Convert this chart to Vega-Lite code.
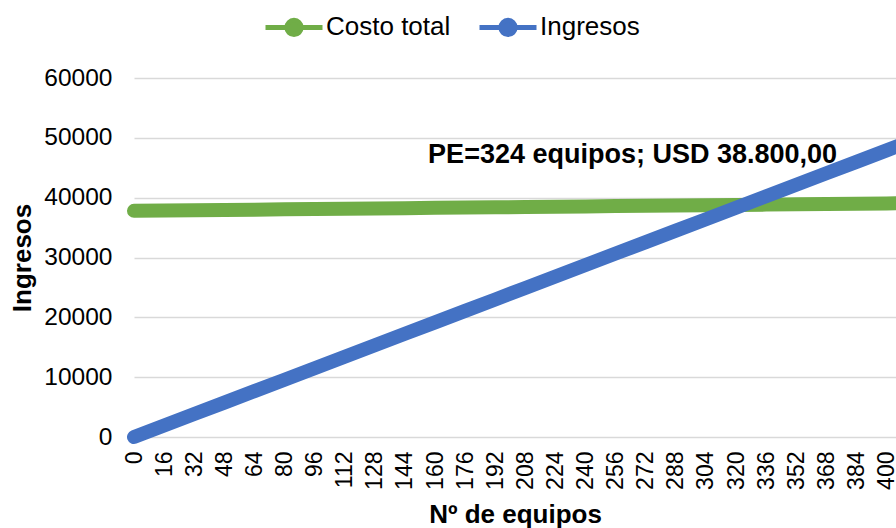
{
  "$schema": "https://vega.github.io/schema/vega-lite/v6.json",
  "width": 762,
  "height": 359,
  "autosize": {"type": "none"},
  "padding": {"left": 134, "top": 78, "right": 0, "bottom": 91},
  "background": "white",
  "config": {
    "font": "Liberation Sans",
    "view": {"stroke": null},
    "axis": {"labelColor": "#000000", "titleColor": "#000000", "labelFont": "Liberation Sans", "titleFont": "Liberation Sans"}
  },
  "datasets": {
    "series": [
      {"equipos": 0, "serie": "Costo total", "valor": 37800},
      {"equipos": 16, "serie": "Costo total", "valor": 37849},
      {"equipos": 32, "serie": "Costo total", "valor": 37899},
      {"equipos": 48, "serie": "Costo total", "valor": 37948},
      {"equipos": 64, "serie": "Costo total", "valor": 37998},
      {"equipos": 80, "serie": "Costo total", "valor": 38047},
      {"equipos": 96, "serie": "Costo total", "valor": 38096},
      {"equipos": 112, "serie": "Costo total", "valor": 38146},
      {"equipos": 128, "serie": "Costo total", "valor": 38195},
      {"equipos": 144, "serie": "Costo total", "valor": 38244},
      {"equipos": 160, "serie": "Costo total", "valor": 38294},
      {"equipos": 176, "serie": "Costo total", "valor": 38343},
      {"equipos": 192, "serie": "Costo total", "valor": 38393},
      {"equipos": 208, "serie": "Costo total", "valor": 38442},
      {"equipos": 224, "serie": "Costo total", "valor": 38491},
      {"equipos": 240, "serie": "Costo total", "valor": 38541},
      {"equipos": 256, "serie": "Costo total", "valor": 38590},
      {"equipos": 272, "serie": "Costo total", "valor": 38639},
      {"equipos": 288, "serie": "Costo total", "valor": 38689},
      {"equipos": 304, "serie": "Costo total", "valor": 38738},
      {"equipos": 320, "serie": "Costo total", "valor": 38788},
      {"equipos": 336, "serie": "Costo total", "valor": 38837},
      {"equipos": 352, "serie": "Costo total", "valor": 38886},
      {"equipos": 368, "serie": "Costo total", "valor": 38936},
      {"equipos": 384, "serie": "Costo total", "valor": 38985},
      {"equipos": 400, "serie": "Costo total", "valor": 39034},
      {"equipos": 416, "serie": "Costo total", "valor": 39084},
      {"equipos": 0, "serie": "Ingresos", "valor": 0},
      {"equipos": 16, "serie": "Ingresos", "valor": 1916},
      {"equipos": 32, "serie": "Ingresos", "valor": 3832},
      {"equipos": 48, "serie": "Ingresos", "valor": 5748},
      {"equipos": 64, "serie": "Ingresos", "valor": 7664},
      {"equipos": 80, "serie": "Ingresos", "valor": 9580},
      {"equipos": 96, "serie": "Ingresos", "valor": 11496},
      {"equipos": 112, "serie": "Ingresos", "valor": 13412},
      {"equipos": 128, "serie": "Ingresos", "valor": 15328},
      {"equipos": 144, "serie": "Ingresos", "valor": 17244},
      {"equipos": 160, "serie": "Ingresos", "valor": 19160},
      {"equipos": 176, "serie": "Ingresos", "valor": 21076},
      {"equipos": 192, "serie": "Ingresos", "valor": 22992},
      {"equipos": 208, "serie": "Ingresos", "valor": 24908},
      {"equipos": 224, "serie": "Ingresos", "valor": 26824},
      {"equipos": 240, "serie": "Ingresos", "valor": 28740},
      {"equipos": 256, "serie": "Ingresos", "valor": 30656},
      {"equipos": 272, "serie": "Ingresos", "valor": 32572},
      {"equipos": 288, "serie": "Ingresos", "valor": 34488},
      {"equipos": 304, "serie": "Ingresos", "valor": 36404},
      {"equipos": 320, "serie": "Ingresos", "valor": 38320},
      {"equipos": 336, "serie": "Ingresos", "valor": 40236},
      {"equipos": 352, "serie": "Ingresos", "valor": 42152},
      {"equipos": 368, "serie": "Ingresos", "valor": 44068},
      {"equipos": 384, "serie": "Ingresos", "valor": 45984},
      {"equipos": 400, "serie": "Ingresos", "valor": 47900},
      {"equipos": 416, "serie": "Ingresos", "valor": 49816}
    ],
    "nota": [
      {"equipos": 265, "valor": 47130, "texto": "PE=324 equipos; USD 38.800,00"}
    ]
  },
  "layer": [
    {
      "data": {"name": "series"},
      "mark": {"type": "line", "strokeWidth": 14, "strokeCap": "round", "strokeJoin": "round"},
      "encoding": {
        "x": {
          "field": "equipos", "type": "quantitative",
          "scale": {"domain": [0, 405], "nice": false, "zero": false},
          "axis": {
            "values": [0,16,32,48,64,80,96,112,128,144,160,176,192,208,224,240,256,272,288,304,320,336,352,368,384,400],
            "tickCount": 40,
            "labelAngle": -90, "labelAlign": "right", "labelBaseline": "middle",
            "labelFontSize": 23, "labelPadding": 14, "labelOverlap": false, "labelFlush": false, "labelBound": false,
            "ticks": false, "domain": false, "grid": false,
            "title": "Nº de equipos", "titleFontSize": 26, "titleFontWeight": "bold", "titlePadding": 12
          }
        },
        "y": {
          "field": "valor", "type": "quantitative",
          "scale": {"domain": [0, 60000], "nice": false},
          "axis": {
            "values": [0,10000,20000,30000,40000,50000,60000],
            "format": "d",
            "labelFontSize": 24.5, "labelPadding": 22,
            "ticks": false, "domain": false, "grid": true, "gridColor": "#d9d9d9", "gridWidth": 1.3,
            "title": "Ingresos", "titleFontSize": 26, "titleFontWeight": "bold", "titlePadding": 8
          }
        },
        "color": {
          "field": "serie", "type": "nominal",
          "scale": {"domain": ["Costo total", "Ingresos"], "range": ["#70AD47", "#4472C4"]},
          "legend": {
            "title": null, "orient": "none", "legendX": 129, "legendY": -82, "direction": "horizontal",
            "labelFontSize": 26, "labelColor": "#000000", "labelOffset": 1, "columnPadding": 18,
            "symbolType": "M-1,0H1M0.25,0A0.25,0.25,0,1,1,-0.25,0A0.25,0.25,0,1,1,0.25,0",
            "symbolSize": 3249, "symbolStrokeWidth": 5,
            "encode": {
              "symbols": {"update": {
                "fill": {"scale": "color", "field": "value"},
                "stroke": {"scale": "color", "field": "value"},
                "strokeWidth": {"value": 5}
              }}
            }
          }
        }
      }
    },
    {
      "data": {"name": "nota"},
      "mark": {"type": "text", "fontSize": 27, "fontWeight": "bold", "color": "#000000", "align": "center", "baseline": "middle"},
      "encoding": {
        "x": {"field": "equipos", "type": "quantitative"},
        "y": {"field": "valor", "type": "quantitative"},
        "text": {"field": "texto"}
      }
    }
  ]
}
